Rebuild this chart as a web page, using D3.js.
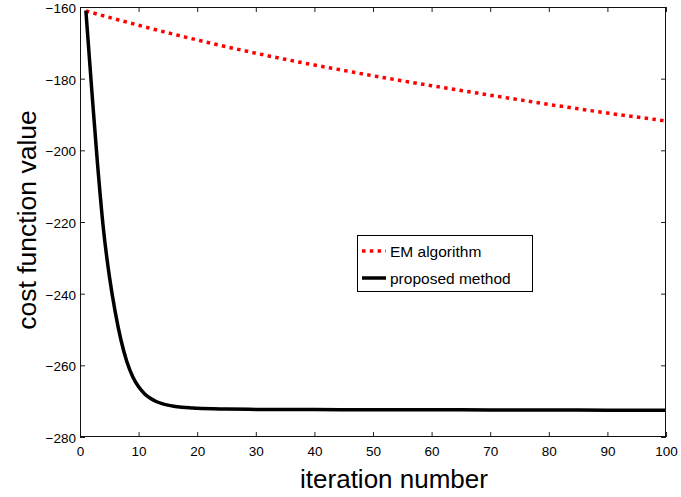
<!DOCTYPE html>
<html><head><meta charset="utf-8">
<script src="https://cdnjs.cloudflare.com/ajax/libs/d3/7.8.5/d3.min.js"></script>
<style>
html,body{margin:0;padding:0;background:#fff;}
svg{display:block;font-family:"Liberation Sans",Arial,Helvetica,sans-serif;}
</style></head>
<body><svg id="chart" width="681" height="497"></svg>
<script>
// ---- data ----
const seriesNames = ["EM algorithm", "proposed method"];
const emIter = [1,5,10,15,20,25,30,35,40,45,50,55,60,65,70,75,80,85,90,95,100];
const emValues = [-161.1,-162.9,-165.1,-167.2,-169.2,-171.1,-172.9,-174.6,-176.2,-177.7,-179.2,-180.6,-181.95,-183.3,-184.6,-185.9,-187.2,-188.4,-189.6,-190.7,-191.8];
const propIter = [1,2,3,4,5,6,7,8,9,10,11,12,13,14,15,16,17,18,19,20,25,30,40,50,60,70,80,90,100];
const propValues = [-161,-183,-204,-222,-235,-245,-253,-259,-263.2,-266,-267.9,-269.2,-270.1,-270.7,-271.1,-271.4,-271.65,-271.8,-271.9,-272.0,-272.2,-272.3,-272.35,-272.4,-272.4,-272.45,-272.45,-272.5,-272.5];
const xTicks = [0,10,20,30,40,50,60,70,80,90,100];
const yTicks = [-160,-180,-200,-220,-240,-260,-280];
const xLabel = "iteration number";
const yLabel = "cost function value";

const svg = d3.select("#chart");
const L = 80, R = 666, T = 7, B = 437;
const x = d3.scaleLinear().domain([0,100]).range([L,R]);
const y = d3.scaleLinear().domain([-280,-160]).range([B,T]);
const fmt = d => String(d).replace("-", "\u2212");

svg.append("rect").attr("x",L).attr("y",T).attr("width",R-L).attr("height",B-T).attr("fill","#fff");

const tickLen = 5;
const gx = svg.append("g").attr("transform",`translate(0,${B})`)
  .call(d3.axisBottom(x).tickValues(xTicks).tickSizeInner(-tickLen).tickSizeOuter(0).tickPadding(9).tickFormat(fmt));
const gy = svg.append("g").attr("transform",`translate(${L},0)`)
  .call(d3.axisLeft(y).tickValues(yTicks).tickSizeInner(-tickLen).tickSizeOuter(0).tickPadding(4).tickFormat(fmt));
const gxt = svg.append("g").attr("transform",`translate(0,${T})`)
  .call(d3.axisTop(x).tickValues(xTicks).tickSizeInner(-tickLen).tickSizeOuter(0).tickFormat(""));
const gyr = svg.append("g").attr("transform",`translate(${R},0)`)
  .call(d3.axisRight(y).tickValues(yTicks).tickSizeInner(-tickLen).tickSizeOuter(0).tickFormat(""));
[gx,gy,gxt,gyr].forEach(g=>{
  g.select(".domain").remove();
  g.selectAll("line").attr("stroke","#222").attr("stroke-width",1);
  g.selectAll("text").attr("fill","#000").style("font-size","13.5px").style("font-family","Liberation Sans, Arial, sans-serif");
});
gy.selectAll("text").attr("dy","0.4em");

const emData = emIter.map((t,i)=>({t, v: emValues[i]}));
const propData = propIter.map((t,i)=>({t, v: propValues[i]}));
const line = d3.line().x(d=>x(d.t)).y(d=>y(d.v)).curve(d3.curveMonotoneX);
const plot = svg.append("g");
plot.append("path").datum(emData).attr("d",line).attr("fill","none")
  .attr("stroke","#ff0000").attr("stroke-width",3.5).attr("stroke-dasharray","3.5,4.3");
plot.append("path").datum(propData).attr("d",line).attr("fill","none")
  .attr("stroke","#000").attr("stroke-width",3.5).attr("stroke-linejoin","round");

svg.append("rect").attr("x",L+0.5).attr("y",T+0.5).attr("width",R-L-1).attr("height",B-T-1)
  .attr("fill","none").attr("stroke","#111").attr("stroke-width",1);

const lg = svg.append("g");
lg.append("rect").attr("x",357.5).attr("y",235.5).attr("width",175).attr("height",56)
  .attr("fill","#fff").attr("stroke","#000").attr("stroke-width",1);
const legendRows = [
  {name: seriesNames[0], color:"#ff0000", dash:"3.5,4.3", cy:251},
  {name: seriesNames[1], color:"#000", dash:null, cy:278}
];
legendRows.forEach(r=>{
  const ln = lg.append("line").attr("x1",362).attr("x2",386).attr("y1",r.cy).attr("y2",r.cy)
    .attr("stroke",r.color).attr("stroke-width",3.5);
  if(r.dash) ln.attr("stroke-dasharray",r.dash);
  lg.append("text").attr("x",390).attr("y",r.cy+5.5).text(r.name)
    .style("font-size","15.5px").attr("fill","#000");
});

svg.append("text").attr("x",394).attr("y",488).attr("text-anchor","middle")
  .style("font-size","26px").attr("fill","#000").text(xLabel);
svg.append("text").attr("transform",`translate(36,220) rotate(-90)`).attr("text-anchor","middle")
  .style("font-size","26.5px").attr("fill","#000").text(yLabel);
</script>
</body></html>
